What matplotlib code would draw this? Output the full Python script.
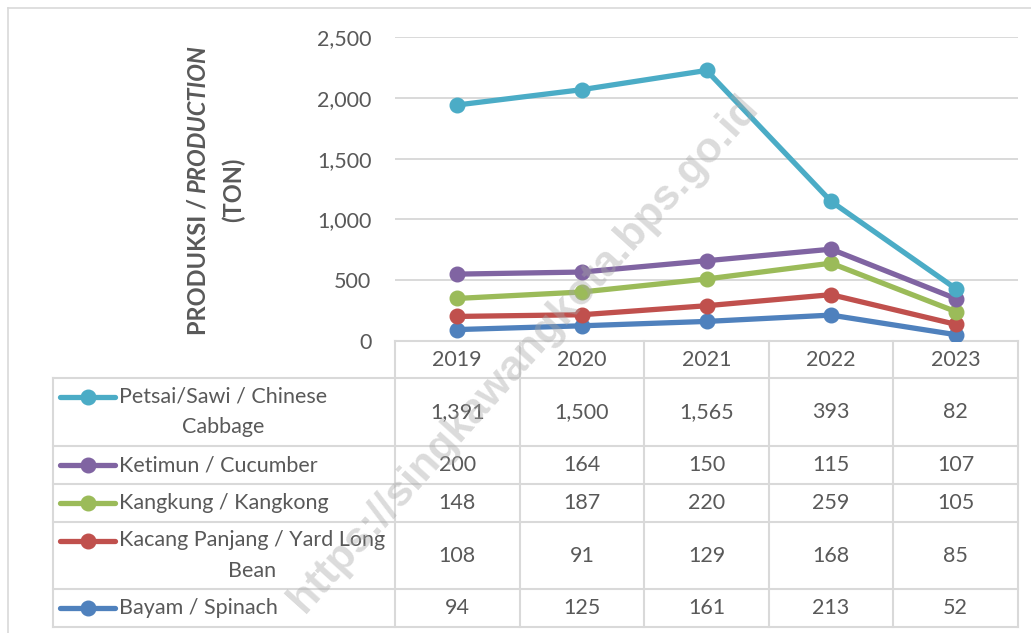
import numpy as np
import matplotlib
matplotlib.use("Agg")
import matplotlib.pyplot as plt

# ---- data ---------------------------------------------------------------
YEARS = ["2019", "2020", "2021", "2022", "2023"]
LABELS = ["Petsai/Sawi / Chinese\nCabbage", "Ketimun / Cucumber",
          "Kangkung / Kangkong", "Kacang Panjang / Yard Long\nBean",
          "Bayam / Spinach"]
PETSAI = [1391, 1500, 1565, 393, 82]
KETIMUN = [200, 164, 150, 115, 107]
KANGKUNG = [148, 187, 220, 259, 105]
KACANG = [108, 91, 129, 168, 85]
BAYAM = [94, 125, 161, 213, 52]
Y_TICKS = [0, 500, 1000, 1500, 2000, 2500]
COLOURS = ["#4BACC6", "#8064A2", "#9BBB59", "#C0504D", "#4F81BD"]

W, H = 1031, 633
TXT = "#595959"
GRID = "#D9D9D9"
FS = 15.5
plt.rcParams["font.family"] = ["Lato", "DejaVu Sans"]

# layout in pixels (top-left origin)
PL, PR, PT, PB = 395, 1018, 37, 341
TL = 53                                   # left edge of legend column
ROWS = [378, 446, 484, 522, 589, 627]     # row boundaries below header

fig = plt.figure(figsize=(W / 100, H / 100), dpi=100)

# overlay axes in pixel units for the table and labels
ax_t = fig.add_axes([0, 0, 1, 1])
ax_t.set_xlim(0, W)
ax_t.set_ylim(H, 0)
ax_t.axis("off")

ax = fig.add_axes([PL / W, 1 - PB / H, (PR - PL) / W, (PB - PT) / H])
ax.patch.set_alpha(0)

# stacked lines: Bayam at the bottom, Petsai on top
rows = [PETSAI, KETIMUN, KANGKUNG, KACANG, BAYAM]
stack = np.cumsum(np.array(rows[::-1]), axis=0)[::-1]
x = np.arange(len(YEARS))
for i in range(len(rows) - 1, -1, -1):
    ax.plot(x, stack[i], color=COLOURS[i], lw=3.8, marker="o", ms=10.5,
            solid_capstyle="round", zorder=3 + (len(rows) - i))

ax.set_xlim(-0.5, len(YEARS) - 0.5)
ax.set_ylim(0, 2500)
ax.set_yticks(Y_TICKS)
ax.set_yticklabels([f"{v:,}" for v in Y_TICKS], color=TXT, fontsize=FS)
ax.set_xticks([])
ax.tick_params(axis="y", length=0, pad=17)
ax.grid(axis="y", color=GRID, lw=1.4)
ax.set_axisbelow(True)
for s in ax.spines.values():
    s.set_visible(False)

# ---- table --------------------------------------------------------------
colw = (PR - PL) / len(YEARS)
lk = dict(color=GRID, lw=1.5, zorder=1)
ax_t.plot([PL, PR], [PB, PB], **lk)
for r in ROWS:
    ax_t.plot([TL, PR], [r, r], **lk)
ax_t.plot([TL, TL], [ROWS[0], ROWS[-1]], **lk)
for j in range(len(YEARS) + 1):
    xx = PL + j * colw
    ax_t.plot([xx, xx], [PB, ROWS[-1]], **lk)

for j, yr in enumerate(YEARS):
    ax_t.text(PL + (j + 0.5) * colw, (PB + ROWS[0]) / 2, yr, ha="center",
              va="center", color=TXT, fontsize=FS)

for i, (lab, vals) in enumerate(zip(LABELS, rows)):
    yc = (ROWS[i] + ROWS[i + 1]) / 2
    ys = yc - 15 if "\n" in lab else yc
    ax_t.plot([60, 115], [ys, ys], color=COLOURS[i], lw=3.8,
              solid_capstyle="round", zorder=3)
    ax_t.plot([88], [ys], "o", color=COLOURS[i], ms=10.5, zorder=4)
    ax_t.text(119, yc, lab, ha="left", va="center", multialignment="center",
              color=TXT, fontsize=FS, linespacing=1.65)
    for j, v in enumerate(vals):
        ax_t.text(PL + (j + 0.5) * colw, yc, f"{v:,}", ha="center",
                  va="center", color=TXT, fontsize=FS)

# outer chart border
ax_t.plot([8, W], [8, 8], color=GRID, lw=1.2)
ax_t.plot([8, 8], [8, H], color=GRID, lw=1.2)

# ---- y label (mixed upright / italic) --------------------------------
t1 = ax_t.text(198, 333, "PRODUKSI / ", rotation=90, ha="center",
               va="bottom", color=TXT, fontsize=17, fontweight="bold")
t2 = ax_t.text(198, 200, "PRODUCTION", rotation=90, ha="center",
               va="bottom", color=TXT, fontsize=17, fontweight="bold",
               style="italic")
ax_t.text(233, 190, "(TON)", rotation=90, ha="center", va="center",
          color=TXT, fontsize=17, fontweight="bold")
fig.canvas.draw()
r = fig.canvas.get_renderer()
h1 = t1.get_window_extent(r).height
h2 = t2.get_window_extent(r).height
ybot = 190 + (h1 + h2) / 2
t1.set_y(ybot)
t2.set_y(ybot - h1)

# watermark
fig.text(524, 354, "https://singkawangkota.bps.go.id", transform=ax_t.transData,
         rotation=48, ha="center", va="center", fontsize=31,
         family="Liberation Sans", fontweight="bold", color="#A6A6A6",
         alpha=0.4, zorder=10)

fig.savefig("out.png", dpi=100)
